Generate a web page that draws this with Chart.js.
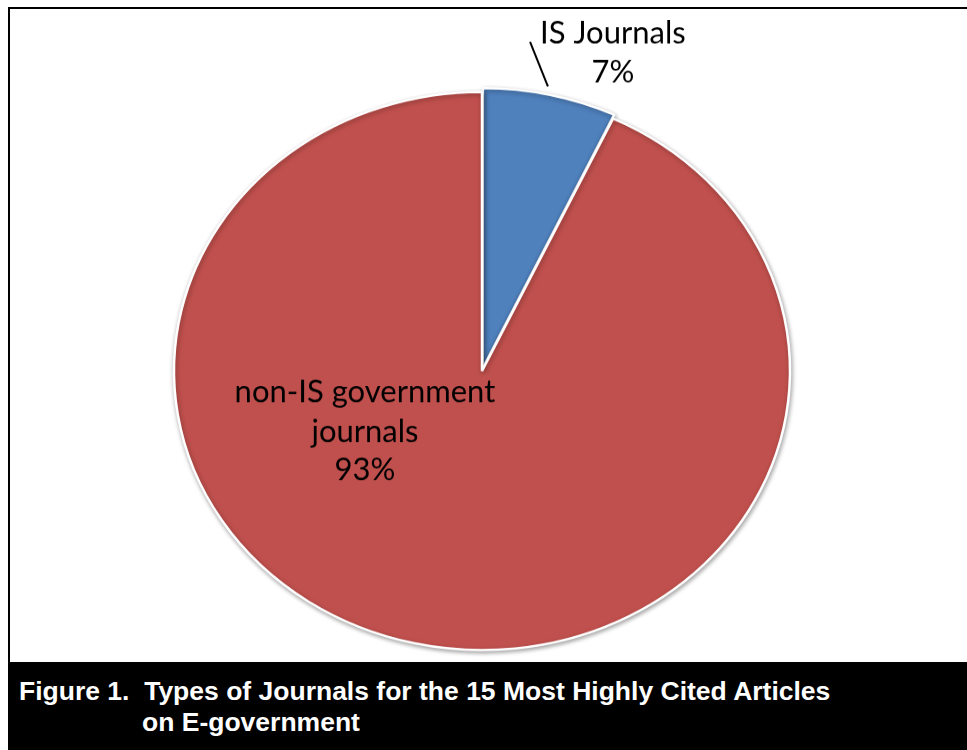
<!DOCTYPE html>
<html>
<head>
<meta charset="utf-8">
<title>Types of Journals</title>
<script src="https://cdn.jsdelivr.net/npm/chart.js@4/dist/chart.umd.min.js"></script>
<style>
    html, body { margin: 0; padding: 0; background: #fff; }
    body { width: 967px; height: 750px; position: relative; overflow: hidden; }
    .frame {
        position: absolute; left: 8px; top: 7px; right: 0; bottom: 0;
        border-left: 2px solid #000; border-top: 2px solid #000;
    }
    #wrap { position: absolute; left: 0; top: 0; width: 967px; height: 819px;
            transform-origin: 0 0; }
    .caption {
        position: absolute; left: 8px; right: 0; top: 662px; bottom: 0;
        background: #000; color: #fff;
        font: bold 26.5px "Liberation Sans", Arial, sans-serif;
        line-height: 31px; padding: 14px 0 0 11px; box-sizing: border-box;
        white-space: nowrap;
    }
    .caption .l2 { padding-left: 123px; }
</style>
</head>
<body>
<div class="frame"></div>
<div id="wrap"><canvas id="pie" width="964" height="819"></canvas></div>
<div class="caption">
    <div>Figure 1.&nbsp; Types of Journals for the 15 Most Highly Cited Articles</div>
    <div class="l2">on E-government</div>
</div>
<script>
(function () {
    'use strict';

    var categories = ['IS Journals', 'non-IS government journals'];
    var labelLines = [['IS Journals'], ['non-IS government', 'journals']];
    var shares = [7, 93];
    var colors = ['#4F81BD', '#C0504D'];
    var offsets = [11, 0];

    // the pie is flattened vertically, like the original Excel chart
    var SQUASH = 0.906;
    document.getElementById('wrap').style.transform = 'scaleY(' + SQUASH + ')';

    var soft = {
        id: 'softShadow',
        beforeDatasetsDraw: function (chart) {
            var ctx = chart.ctx;
            ctx.save();
            ctx.shadowColor = 'rgba(0,0,0,0.35)';
            ctx.shadowBlur = 5;
            ctx.shadowOffsetX = 1;
            ctx.shadowOffsetY = 2;
        },
        afterDatasetsDraw: function (chart) {
            chart.ctx.restore();
        }
    };

    // labels are drawn back in unsquashed space so the type stays upright
    var sliceLabels = {
        id: 'sliceLabels',
        afterDraw: function (chart) {
            var ctx = chart.ctx;
            var arcs = chart.getDatasetMeta(0).data;
            var cx = arcs[1].x, cy = arcs[1].y * SQUASH;
            var rx = arcs[1].outerRadius, ry = rx * SQUASH;
            var font = '31px Lato, "Open Sans", sans-serif';
            ctx.save();
            ctx.scale(1, 1 / SQUASH);
            ctx.fillStyle = '#000';
            ctx.font = font;
            ctx.textAlign = 'center';
            ctx.textBaseline = 'middle';

            // outside label for the small slice, with a leader line
            var ax = cx + rx * 0.425, ay = cy - ry * 1.21;
            ctx.fillText(labelLines[0][0], ax, ay);
            ctx.fillText(shares[0] + '%', ax, ay + 39);
            ctx.strokeStyle = '#000';
            ctx.lineWidth = 2;
            ctx.beginPath();
            ctx.moveTo(cx + rx * 0.156, cy - ry * 1.18);
            ctx.lineTo(cx + rx * 0.214, cy - ry * 1.02);
            ctx.stroke();

            // inside label for the large slice
            var bx = cx - rx * 0.38, by = cy + ry * 0.075;
            ctx.fillText(labelLines[1][0], bx, by);
            ctx.fillText(labelLines[1][1], bx, by + 40);
            ctx.fillText(shares[1] + '%', bx, by + 78);
            ctx.restore();
        }
    };

    new Chart(document.getElementById('pie').getContext('2d'), {
        type: 'pie',
        data: {
            labels: categories,
            datasets: [{
                data: shares,
                backgroundColor: colors,
                borderColor: '#fff',
                borderWidth: 2.5,
                offset: offsets
            }]
        },
        options: {
            responsive: false,
            animation: false,
            radius: 308,
            layout: { padding: 0 },
            plugins: {
                legend: { display: false },
                tooltip: { enabled: false }
            }
        },
        plugins: [soft, sliceLabels]
    });
})();
</script>
</body>
</html>
